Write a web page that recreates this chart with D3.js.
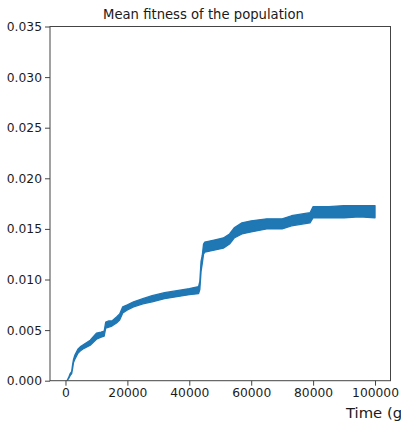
<!DOCTYPE html>
<html>
<head>
<meta charset="utf-8">
<script src="https://cdn.jsdelivr.net/npm/d3@7"></script>
<style>
  html, body { margin: 0; padding: 0; background: #fff; overflow: hidden; }
  svg { display: block; font-family: "DejaVu Sans", sans-serif; }
</style>
</head>
<body>
<div id="chart"></div>
<script>
// Envelope of the noisy mean-fitness trace
const time = [500, 1000, 1500, 2000, 2300, 2600, 3000, 4000, 5000, 6000, 8000, 10000,
  11500, 12500, 13000, 14000, 15000, 16500, 17500, 18500, 20000, 22000, 25000, 28000,
  32000, 36000, 40000, 43000, 43400, 43800, 44200, 44600, 45000, 48000, 51000, 53000,
  54500, 57000, 60000, 65000, 70000, 73000, 77000, 79000, 80000, 85000, 90000, 95000, 100000];
const fitnessLow = [0, 0.0002, 0.0005, 0.0007, 0.0012, 0.0018, 0.0021, 0.0027, 0.0030, 0.0032, 0.0035, 0.0041,
  0.0043, 0.0044, 0.0052, 0.0053, 0.0054, 0.0057, 0.0060, 0.0067, 0.0070, 0.0073, 0.0076, 0.0078,
  0.0081, 0.0083, 0.0085, 0.0086, 0.0090, 0.0108, 0.0116, 0.0125, 0.0127, 0.0129, 0.0131, 0.0135,
  0.0141, 0.0145, 0.0147, 0.0150, 0.0150, 0.0153, 0.0155, 0.0156, 0.0161, 0.0161, 0.0161, 0.0162, 0.0161];
const fitnessHigh = [0, 0.0003, 0.0007, 0.0009, 0.0016, 0.0021, 0.0025, 0.0031, 0.0034, 0.0036, 0.0040, 0.0047,
  0.0048, 0.0049, 0.0058, 0.0059, 0.0059, 0.0063, 0.0066, 0.0073, 0.0075, 0.0078, 0.0081, 0.0084,
  0.0087, 0.0089, 0.0091, 0.0093, 0.0098, 0.0118, 0.0124, 0.0135, 0.0137, 0.0139, 0.0141, 0.0145,
  0.0151, 0.0156, 0.0158, 0.0160, 0.0160, 0.0163, 0.0165, 0.0166, 0.0172, 0.0172, 0.0173, 0.0173, 0.0173];

const xTicks = [0, 20000, 40000, 60000, 80000, 100000];
const yTicks = [0, 0.005, 0.010, 0.015, 0.020, 0.025, 0.030, 0.035];

const width = 401, height = 422;
const plot = { left: 50, right: 390.5, top: 26.5, bottom: 380.7 };

const svg = d3.select('#chart').append('svg')
  .attr('width', width)
  .attr('height', height);

const x = d3.scaleLinear().domain([-5000, 105000]).range([plot.left, plot.right]);
const y = d3.scaleLinear().domain([0, 0.035]).range([plot.bottom, plot.top]);

// clip so nothing leaks past the axes
svg.append('clipPath').attr('id', 'clip')
  .append('rect')
  .attr('x', plot.left).attr('y', plot.top)
  .attr('width', plot.right - plot.left).attr('height', plot.bottom - plot.top);

const series = time.map((t, i) => ({ t, lo: fitnessLow[i], hi: fitnessHigh[i] }));

const area = d3.area()
  .x(d => x(d.t))
  .y0(d => y(d.lo))
  .y1(d => y(d.hi));

svg.append('path')
  .datum(series)
  .attr('clip-path', 'url(#clip)')
  .attr('d', area)
  .attr('fill', '#1f77b4')
  .attr('stroke', '#1f77b4')
  .attr('stroke-width', 1.3)
  .attr('stroke-linejoin', 'round');

// axes
const textColor = '#1a1a1a';
const xAxis = svg.append('g')
  .attr('transform', `translate(0,${plot.bottom})`)
  .call(d3.axisBottom(x).tickValues(xTicks).tickFormat(d3.format('d')).tickSize(5).tickPadding(3));
const yAxis = svg.append('g')
  .attr('transform', `translate(${plot.left},0)`)
  .call(d3.axisLeft(y).tickValues(yTicks).tickFormat(d3.format('.3f')).tickSize(5).tickPadding(3));

[xAxis, yAxis].forEach(g => {
  g.select('.domain').remove();
  g.selectAll('line').attr('stroke', '#444');
  g.selectAll('text')
    .attr('fill', textColor)
    .style('font-size', '12.3px')
    .style('font-family', '"DejaVu Sans", sans-serif');
});

// frame
svg.append('rect')
  .attr('x', plot.left).attr('y', plot.top)
  .attr('width', plot.right - plot.left).attr('height', plot.bottom - plot.top)
  .attr('fill', 'none')
  .attr('stroke', '#444')
  .attr('stroke-width', 1);

svg.append('text')
  .attr('x', 203.5)
  .attr('y', 19)
  .attr('text-anchor', 'middle')
  .attr('fill', textColor)
  .style('font-size', '13.2px')
  .text('Mean fitness of the population');

// x label runs off the right edge, as in the original figure
svg.append('text')
  .attr('x', 346)
  .attr('y', 418)
  .attr('fill', textColor)
  .style('font-size', '14.8px')
  .text('Time (generations)');
</script>
</body>
</html>
